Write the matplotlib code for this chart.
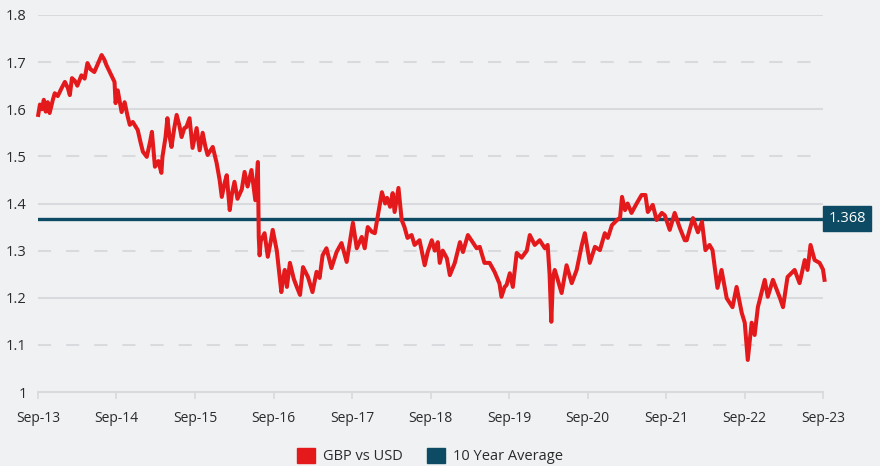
import matplotlib
matplotlib.use("Agg")
import matplotlib.pyplot as plt
import matplotlib.patches as mpatches
import pandas as pd

# ---------------- data ----------------
dates = [
    "2013-09-02", "2013-09-10", "2013-09-19", "2013-09-28", "2013-10-07", "2013-10-16", "2013-10-25",
    "2013-11-09", "2013-11-18", "2013-12-02", "2013-12-20", "2014-01-04", "2014-01-18", "2014-01-27",
    "2014-02-06", "2014-02-20", "2014-03-03", "2014-03-22", "2014-04-06", "2014-04-19", "2014-05-03",
    "2014-05-21", "2014-06-10", "2014-06-24", "2014-07-07", "2014-07-16", "2014-08-05", "2014-08-23",
    "2014-08-28", "2014-09-07", "2014-09-25", "2014-10-09", "2014-10-23", "2014-11-02", "2014-11-16",
    "2014-12-09", "2014-12-22", "2015-01-02", "2015-01-20", "2015-02-04", "2015-02-13", "2015-02-27",
    "2015-03-15", "2015-03-29", "2015-04-03", "2015-04-17", "2015-04-26", "2015-05-05", "2015-05-15",
    "2015-05-28", "2015-06-08", "2015-06-21", "2015-07-01", "2015-07-14", "2015-07-23", "2015-08-07",
    "2015-08-21", "2015-09-09", "2015-09-23", "2015-10-07", "2015-10-20", "2015-10-30", "2015-11-23",
    "2015-12-11", "2015-12-25", "2016-01-04", "2016-01-18", "2016-01-27", "2016-02-10", "2016-02-20",
    "2016-03-03", "2016-03-17", "2016-04-06", "2016-04-19", "2016-05-03", "2016-05-21", "2016-06-08",
    "2016-06-20", "2016-06-24", "2016-06-28", "2016-07-03", "2016-07-21", "2016-08-05", "2016-08-19",
    "2016-08-28", "2016-09-16", "2016-10-07", "2016-10-14", "2016-10-23", "2016-11-02", "2016-11-16",
    "2016-12-04", "2016-12-18", "2017-01-02", "2017-01-16", "2017-02-08", "2017-03-01", "2017-03-20",
    "2017-04-03", "2017-04-17", "2017-05-05", "2017-05-28", "2017-06-21", "2017-07-14", "2017-08-07",
    "2017-09-05", "2017-09-23", "2017-10-16", "2017-10-30", "2017-11-13", "2017-12-02", "2017-12-16",
    "2017-12-29", "2018-01-18", "2018-02-02", "2018-02-11", "2018-02-25", "2018-03-09", "2018-03-18",
    "2018-04-05", "2018-04-20", "2018-05-03", "2018-05-17", "2018-06-05", "2018-06-19", "2018-07-12",
    "2018-08-05", "2018-08-19", "2018-09-07", "2018-09-21", "2018-10-05", "2018-10-14", "2018-10-28",
    "2018-11-16", "2018-11-30", "2018-12-23", "2019-01-16", "2019-01-30", "2019-02-22", "2019-03-16",
    "2019-04-04", "2019-04-18", "2019-05-10", "2019-06-03", "2019-06-26", "2019-07-19", "2019-07-28",
    "2019-08-12", "2019-08-21", "2019-09-05", "2019-09-19", "2019-10-07", "2019-10-30", "2019-11-23",
    "2019-12-07", "2019-12-30", "2020-01-22", "2020-02-15", "2020-02-28", "2020-03-08", "2020-03-16",
    "2020-03-24", "2020-04-01", "2020-04-15", "2020-05-03", "2020-05-26", "2020-06-19", "2020-07-12",
    "2020-08-05", "2020-08-19", "2020-09-11", "2020-10-05", "2020-10-28", "2020-11-20", "2020-12-04",
    "2020-12-23", "2021-01-16", "2021-01-30", "2021-02-08", "2021-02-22", "2021-03-06", "2021-03-24",
    "2021-04-17", "2021-05-10", "2021-05-28", "2021-06-08", "2021-07-01", "2021-07-19", "2021-08-12",
    "2021-08-26", "2021-09-18", "2021-10-11", "2021-11-04", "2021-11-27", "2021-12-06", "2022-01-04",
    "2022-01-27", "2022-02-15", "2022-03-03", "2022-03-22", "2022-04-05", "2022-04-28", "2022-05-17",
    "2022-06-10", "2022-07-07", "2022-07-26", "2022-08-19", "2022-09-02", "2022-09-16", "2022-10-04",
    "2022-10-18", "2022-11-02", "2022-12-04", "2022-12-18", "2023-01-11", "2023-02-13", "2023-02-27",
    "2023-03-20", "2023-04-22", "2023-05-15", "2023-06-08", "2023-06-21", "2023-07-05", "2023-07-24",
    "2023-08-16", "2023-09-01", "2023-09-08",
]
gbp_usd = [
    1.588, 1.610, 1.600, 1.620, 1.595, 1.615, 1.592,
    1.620, 1.634, 1.628, 1.645, 1.658, 1.645, 1.630,
    1.666, 1.660, 1.650, 1.672, 1.665, 1.698, 1.685,
    1.679, 1.700, 1.715, 1.705, 1.694, 1.675, 1.658,
    1.613, 1.640, 1.594, 1.615, 1.585, 1.567, 1.573,
    1.556, 1.530, 1.510, 1.499, 1.530, 1.552, 1.478,
    1.490, 1.465, 1.499, 1.540, 1.581, 1.545, 1.520,
    1.560, 1.588, 1.565, 1.541, 1.560, 1.562, 1.581,
    1.518, 1.560, 1.513, 1.550, 1.520, 1.503, 1.520,
    1.486, 1.450, 1.414, 1.445, 1.460, 1.386, 1.420,
    1.446, 1.410, 1.430, 1.467, 1.436, 1.471, 1.407,
    1.488, 1.329, 1.290, 1.320, 1.337, 1.287, 1.320,
    1.344, 1.300, 1.212, 1.238, 1.259, 1.223, 1.274,
    1.240, 1.223, 1.206, 1.265, 1.244, 1.212, 1.255,
    1.242, 1.290, 1.305, 1.263, 1.297, 1.316, 1.276,
    1.359, 1.305, 1.329, 1.305, 1.350, 1.340, 1.337,
    1.371, 1.424, 1.400, 1.412, 1.393, 1.422, 1.382,
    1.433, 1.365, 1.350, 1.327, 1.333, 1.312, 1.322,
    1.269, 1.297, 1.322, 1.300, 1.318, 1.274, 1.300,
    1.284, 1.248, 1.274, 1.318, 1.297, 1.333, 1.318,
    1.305, 1.308, 1.274, 1.274, 1.255, 1.230, 1.202,
    1.223, 1.227, 1.252, 1.223, 1.295, 1.285, 1.300,
    1.333, 1.312, 1.322, 1.305, 1.312, 1.250, 1.149,
    1.244, 1.259, 1.238, 1.210, 1.269, 1.231, 1.259,
    1.312, 1.337, 1.274, 1.308, 1.301, 1.337, 1.327,
    1.354, 1.365, 1.370, 1.414, 1.386, 1.400, 1.380,
    1.400, 1.418, 1.418, 1.382, 1.397, 1.365, 1.380,
    1.375, 1.344, 1.380, 1.348, 1.322, 1.322, 1.369,
    1.339, 1.361, 1.301, 1.312, 1.301, 1.221, 1.259,
    1.199, 1.180, 1.223, 1.168, 1.147, 1.068, 1.147,
    1.121, 1.180, 1.238, 1.202, 1.238, 1.199, 1.180,
    1.244, 1.259, 1.231, 1.280, 1.259, 1.312, 1.280,
    1.274, 1.260, 1.238,
]
ten_year_avg = 1.368
tick_dates = ["2013-09-01", "2014-09-01", "2015-09-01", "2016-09-01", "2017-09-01", "2018-09-01",
              "2019-09-01", "2020-09-01", "2021-09-01", "2022-09-01", "2023-09-01"]
tick_labels = ["Sep-13", "Sep-14", "Sep-15", "Sep-16", "Sep-17", "Sep-18",
               "Sep-19", "Sep-20", "Sep-21", "Sep-22", "Sep-23"]
y_ticks = [1.0, 1.1, 1.2, 1.3, 1.4, 1.5, 1.6, 1.7, 1.8]
y_tick_labels = ["1", "1.1", "1.2", "1.3", "1.4", "1.5", "1.6", "1.7", "1.8"]
series_names = ["GBP vs USD", "10 Year Average"]

# ---------------- style ----------------
BG = "#f0f1f3"
RED = "#e3191b"
TEAL = "#0d4a63"
GRID = "#d9dadd"
TEXT = "#2b2b2b"

plt.rcParams["font.family"] = ["Open Sans", "DejaVu Sans"]

fig = plt.figure(figsize=(8.8, 4.66), dpi=100, facecolor=BG)
ax = fig.add_axes([38 / 880, 1 - 392 / 466, (823 - 38) / 880, (392 - 15) / 466])
ax.set_facecolor(BG)

x = pd.to_datetime(dates)
xt = pd.to_datetime(tick_dates)

# grid lines: solid on even tenths, dashed on odd
for v in y_ticks[1:]:
    i = round(v * 10)
    if i % 2 == 0:
        ax.axhline(v, color=GRID, lw=1.5, zorder=1)
    else:
        ax.axhline(v, color=GRID, lw=1.5, ls=(0, (6.3, 7.2)), zorder=1)

ax.axhline(ten_year_avg, color=TEAL, lw=2.4, zorder=2)
ax.plot(x, gbp_usd, color=RED, lw=2.9, zorder=3, solid_joinstyle="round", clip_on=False)

ax.set_xlim(xt[0], xt[-1])
ax.set_ylim(1.0, 1.8)

for s in ["top", "right", "left"]:
    ax.spines[s].set_visible(False)
ax.spines["bottom"].set_color(GRID)
ax.spines["bottom"].set_linewidth(1.5)

ax.set_xticks(xt)
ax.set_xticklabels(tick_labels)
ax.set_yticks(y_ticks)
ax.set_yticklabels(y_tick_labels)
ax.tick_params(axis="x", length=5, width=1.2, color=GRID, labelsize=10, labelcolor=TEXT, pad=9)
ax.tick_params(axis="y", length=0, labelsize=10.5, labelcolor=TEXT, pad=8)

# value label box for the average
ax.annotate(f"{ten_year_avg:.3f}", xy=(1.0, ten_year_avg), xycoords=("axes fraction", "data"),
            xytext=(4, 0), textcoords="offset points", ha="left", va="center",
            color="white", fontsize=10.5, annotation_clip=False,
            bbox=dict(boxstyle="square,pad=0.35", fc=TEAL, ec=TEAL))

handles = [mpatches.Patch(color=RED, label=series_names[0]),
           mpatches.Patch(color=TEAL, label=series_names[1])]
fig.legend(handles=handles, loc="center", bbox_to_anchor=(430 / 880, 10 / 466), ncol=2,
           frameon=False, fontsize=10.5, handlelength=1.25, handleheight=1.25,
           handletextpad=0.55, columnspacing=1.6, labelcolor=TEXT)

fig.savefig("out.png", dpi=100, facecolor=BG)
